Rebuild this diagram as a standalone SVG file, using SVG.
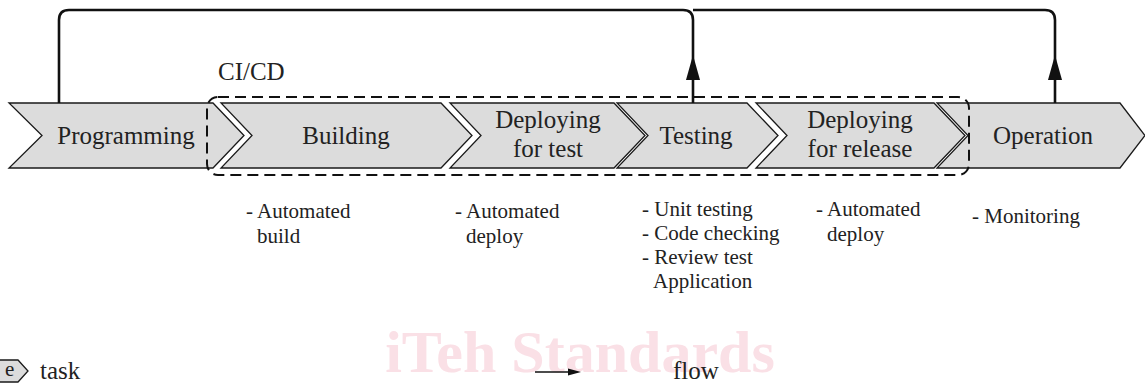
<svg xmlns="http://www.w3.org/2000/svg" width="1145" height="387" viewBox="0 0 1145 387">
<style>
.chev{fill:#dcdcdc;stroke:#1a1a1a;stroke-width:1.3;stroke-linejoin:miter}
.lbl{font-family:"Liberation Serif","DejaVu Serif",serif;font-size:25px;fill:#222;text-anchor:middle}
.note{font-family:"Liberation Serif","DejaVu Serif",serif;font-size:21px;fill:#222}
.conn{fill:none;stroke:#111;stroke-width:2.6}
.head{fill:#111}
</style>
<text x="580" y="372" font-family="Liberation Serif,serif" font-weight="bold" font-size="60" fill="#fae0e6" text-anchor="middle">iTeh Standards</text>
<g id="programming">
<polygon class="chev" points="9,103 213,103 244,135.5 213,168 9,168 42,135.5"/>
<text class="lbl" x="126" y="144">Programming</text>
</g>
<g id="building">
<polygon class="chev" points="221,103 441,103 472,135.5 441,168 221,168 252,135.5"/>
<text class="lbl" x="346" y="144">Building</text>
</g>
<g id="deploy-test">
<polygon class="chev" points="450,103 614,103 645,135.5 614,168 450,168 481,135.5"/>
<text class="lbl" x="548" y="128">Deploying</text>
<text class="lbl" x="548" y="157">for test</text>
</g>
<g id="testing">
<polygon class="chev" points="617,103 747,103 778,135.5 747,168 617,168 648,135.5"/>
<text class="lbl" x="696" y="144">Testing</text>
</g>
<g id="deploy-release">
<polygon class="chev" points="756,103 934,103 965,135.5 934,168 756,168 787,135.5"/>
<text class="lbl" x="860" y="128">Deploying</text>
<text class="lbl" x="860" y="157">for release</text>
</g>
<g id="operation">
<polygon class="chev" points="937,103 1120,103 1145,135.5 1120,168 937,168 968,135.5"/>
<text class="lbl" x="1043" y="144">Operation</text>
</g>
<g id="cicd">
<rect x="207" y="97" width="762" height="78" rx="11" fill="none" stroke="#111" stroke-width="2" stroke-dasharray="11 6"/>
<text class="lbl" x="218" y="80" style="text-anchor:start">CI/CD</text>
</g>
<g id="connectors">
<path class="conn" d="M693,103 V20 Q693,10 683,10 H69 Q59,10 59,20 V103"/>
<path class="conn" d="M1055,103 V20 Q1055,10 1045,10 H693"/>
<polygon class="head" points="693,55 700,80 686,80"/>
<polygon class="head" points="1055,55 1062,80 1048,80"/>
</g>
<g id="notes">
<text class="note" x="246" y="218">- Automated</text>
<text class="note" x="257" y="243">build</text>
<text class="note" x="455" y="218">- Automated</text>
<text class="note" x="466" y="243">deploy</text>
<text class="note" x="642" y="216">- Unit testing</text>
<text class="note" x="642" y="240">- Code checking</text>
<text class="note" x="642" y="264">- Review test</text>
<text class="note" x="653" y="288">Application</text>
<text class="note" x="816" y="216">- Automated</text>
<text class="note" x="827" y="241">deploy</text>
<text class="note" x="972" y="223">- Monitoring</text>
</g>
<g id="legend">
<polygon class="chev" points="-20,360 18,360 28,371 18,382 -20,382"/>
<text class="note" x="5" y="376" font-size="16">e</text>
<text class="lbl" x="40" y="379" style="text-anchor:start">task</text>
<line x1="535" y1="372" x2="570" y2="372" stroke="#111" stroke-width="1.6"/>
<polygon class="head" points="581,372 568,368.5 568,375.5"/>
<text class="lbl" x="673" y="379" style="text-anchor:start">flow</text>
</g>
</svg>
